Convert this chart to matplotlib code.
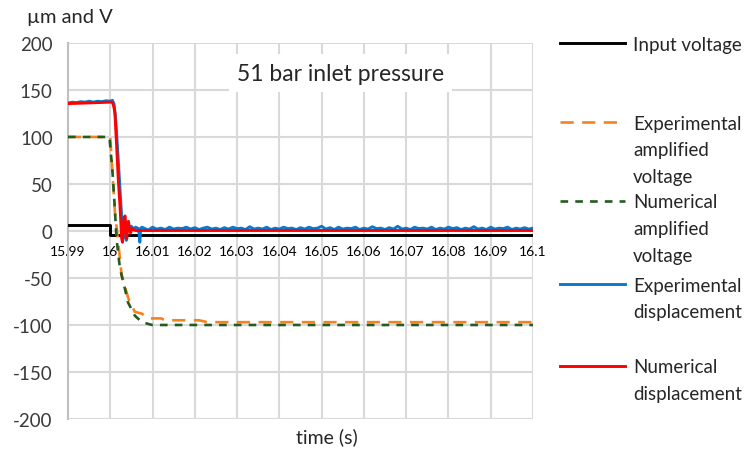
import numpy as np
import matplotlib
matplotlib.use("Agg")
import matplotlib.pyplot as plt

plt.rcParams['font.family'] = ['Lato', 'DejaVu Sans']

# ---------------- data ----------------
x_ticks = [15.99, 16.0, 16.01, 16.02, 16.03, 16.04, 16.05, 16.06, 16.07, 16.08, 16.09, 16.1]
x_tick_labels = ["15.99", "16", "16.01", "16.02", "16.03", "16.04", "16.05",
                 "16.06", "16.07", "16.08", "16.09", "16.1"]
y_ticks = [-200, -150, -100, -50, 0, 50, 100, 150, 200]

t_input = [15.99, 16.0, 16.0, 16.1]
input_voltage = [6, 6, -4, -4]

t_exp_amp = [15.99, 16.0, 16.0011, 16.0016, 16.0027, 16.0043, 16.0058, 16.0075,
             16.009, 16.012, 16.013, 16.021, 16.023, 16.05, 16.1]
exp_amp = [100, 100, 20, 0, -47, -72, -86, -88, -93, -93, -95, -95, -97, -97, -97]

t_num_amp = [15.99, 15.9998, 16.0005, 16.001, 16.0015, 16.0023, 16.0035, 16.0042,
             16.0058, 16.0075, 16.0099, 16.1]
num_amp = [100, 100, 65, 30, -9, -40, -62, -76, -90, -97, -100, -100]

t_exp_disp_head = [15.99, 15.991, 15.992, 15.993, 15.994, 15.995, 15.996, 15.997, 15.998, 15.999,
                   16.0, 16.0005, 16.0009, 16.0013, 16.0017, 16.0021, 16.0025, 16.0028, 16.003, 16.0032,
                   16.0034, 16.0036, 16.0038, 16.004, 16.0043, 16.0046, 16.005, 16.0055, 16.006, 16.0065,
                   16.0068, 16.007, 16.0072, 16.0075]
exp_disp_head = [136, 137, 136.5, 137.5, 137, 138, 137, 138, 137.5, 138.5,
                 138, 139, 135, 118, 90, 60, 30, 8, -8, 4,
                 12, -4, -10, 6, 10, 0, 5, 2, 4, 3,
                 -2, -12, 3, 4]
t_exp_disp_tail = np.round(np.arange(16.008, 16.1001, 0.001), 3)
exp_disp_tail = [3, 1, 4, 2, 3, 1.5, 4, 2, 3, 2.5,
                 4, 2, 3.5, 1.5, 3, 4, 2, 3, 1.5, 3.5,
                 2, 4, 2.5, 3, 1.5, 4.5, 2, 3, 2, 4,
                 1.5, 3, 2, 4, 2.5, 3, 1.5, 3.5, 2, 4,
                 2.5, 3, 5, 2, 3.5, 1.5, 4, 2, 3, 2.5,
                 4, 1.5, 3, 2, 4.5, 2.5, 3, 1.5, 3.5, 2,
                 5, 2, 3, 1.5, 4, 2.5, 3, 2, 4, 1.5,
                 3, 2, 4, 2.5, 3.5, 1.5, 3, 2, 4.5, 2,
                 3, 1.5, 4, 2, 3, 2.5, 4, 1.5, 3, 2,
                 3.5, 2, 3]

t_num_disp = [15.99, 16.0, 16.0005, 16.0008, 16.0011, 16.0015, 16.0019, 16.0023, 16.0025, 16.0027,
              16.0029, 16.0031, 16.0033, 16.0035, 16.0037, 16.0039, 16.0041, 16.0043, 16.0045, 16.0048,
              16.0052, 16.0056, 16.006, 16.1]
num_disp = [135.5, 137, 137, 133, 126, 91, 55, 27, 10, -8,
            -12, 0, 14, 16, 4, -8, 4, 10, 2, -2,
            3, 1, 0.5, 0.5]

labels = ["Input voltage", "Experimental\namplified\nvoltage", "Numerical\namplified\nvoltage",
          "Experimental\ndisplacement", "Numerical\ndisplacement"]

# ---------------- figure ----------------
fig = plt.figure(figsize=(7.47, 4.52), dpi=100)
ax = fig.add_axes([0.091, 0.0708, 0.6225, 0.832])

grid_c = "#d9d9d9"
l1, = ax.plot(t_input, input_voltage, color="black", lw=2.1, zorder=3)
l2, = ax.plot(t_exp_amp, exp_amp, color="#f4831f", lw=1.9, dashes=(5.0, 3.2), zorder=4)
l3, = ax.plot(t_num_amp, num_amp, color="#245b1f", lw=1.9, dashes=(2.9, 2.7), zorder=5)
l4, = ax.plot(np.concatenate([t_exp_disp_head, t_exp_disp_tail]),
              np.concatenate([exp_disp_head, exp_disp_tail]),
              color="#0b78d0", lw=2.1, zorder=6)
l5, = ax.plot(t_num_disp, num_disp, color="#ff0000", lw=2.1, zorder=7)

ax.set_xlim(15.99, 16.1)
ax.set_ylim(-200, 200)
ax.set_xticks(x_ticks)
ax.set_xticklabels(x_tick_labels, fontsize=9.5, color="#3a3a3a")
ax.set_yticks(y_ticks)
ax.set_yticklabels([str(v) for v in y_ticks], fontsize=13.5, color="#3a3a3a")
ax.grid(True, color=grid_c, lw=1.5, zorder=0)
ax.set_axisbelow(True)
for s in ["top", "right"]:
    ax.spines[s].set_visible(False)
ax.spines["left"].set_color("#bfbfbf")
ax.spines["left"].set_linewidth(1.5)
ax.spines["bottom"].set_position(("data", 0))
ax.spines["bottom"].set_visible(False)
ax.tick_params(axis="both", length=0)
ax.tick_params(axis="x", pad=10)
ax.tick_params(axis="y", pad=11)

ax.text(16.0545, 168, "51 bar inlet pressure", fontsize=16.5, color="#262626",
        ha="center", va="center", zorder=10,
        bbox=dict(facecolor="white", edgecolor="none", pad=6))

fig.text(0.094, 0.962, "µm and V", fontsize=14.5, color="#262626", ha="center", va="center")
fig.text(0.438, 0.033, "time (s)", fontsize=14, color="#262626", ha="center", va="center")

# legend entries (one legend per entry so spacing can follow the original)
tops = [0.9187, 0.7437, 0.5697, 0.386, 0.2047]
for h, lab, top in zip([l1, l2, l3, l4, l5], labels, tops):
    leg = fig.legend(handles=[h], labels=[lab], loc="upper left", bbox_to_anchor=(0.7497, top),
                     frameon=False, fontsize=13.5, handlelength=3.47, handletextpad=0.43,
                     handleheight=1.0, borderpad=0, borderaxespad=0)
    for t in leg.get_texts():
        t.set_color("#262626")
        t.set_linespacing(1.68)
    for col in leg._legend_handle_box.get_children():
        for item in col.get_children():
            item.align = "top"

fig.savefig("out.png", dpi=100)
